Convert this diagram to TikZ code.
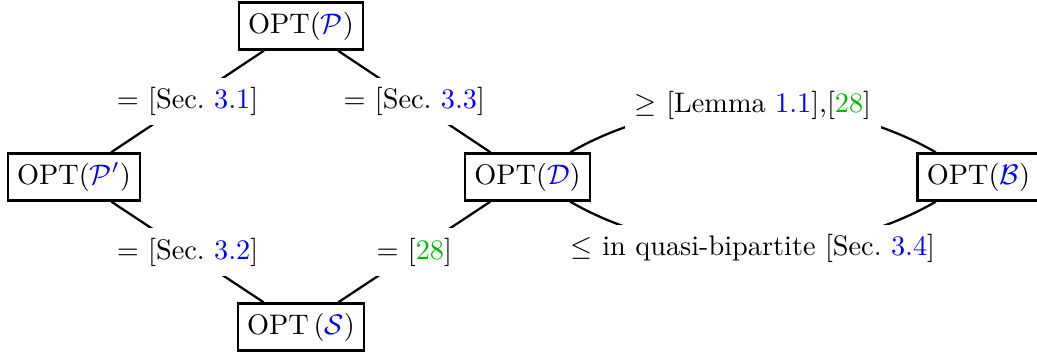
\documentclass[tikz,border=0pt]{standalone}
\usepackage{xcolor}
\definecolor{refblue}{rgb}{0,0,1}
\definecolor{citegreen}{rgb}{0,0.72,0}
\newcommand{\secref}[1]{\textcolor{refblue}{#1}}
\newcommand{\citeref}[1]{[\textcolor{citegreen}{#1}]}
\begin{document}
\begin{tikzpicture}[x=0.3534pt, y=-0.3534pt,
  opt/.style={draw, line width=0.8pt, inner sep=3.33pt},
  elabel/.style={fill=white, inner sep=3.33pt},
  conn/.style={line width=0.8pt}]
\useasboundingbox (0,0) rectangle (1037,356);
\node[opt] (P)  at (301,26)    {$\mathrm{OPT}(\textcolor{refblue}{\mathcal{P}})$};
\node[opt] (Pp) at (74,177)    {$\mathrm{OPT}(\textcolor{refblue}{\mathcal{P}'})$};
\node[opt] (D)  at (527.5,177) {$\mathrm{OPT}(\textcolor{refblue}{\mathcal{D}})$};
\node[opt] (B)  at (978.5,177) {$\mathrm{OPT}(\textcolor{refblue}{\mathcal{B}})$};
\node[opt] (S)  at (301,327)   {$\mathrm{OPT}\left(\textcolor{refblue}{\mathcal{S}}\right)$};
\draw[conn] (P) -- node[elabel] {$=$ [Sec.~\secref{3.1}]} (Pp);
\draw[conn] (P) -- node[elabel] {$=$ [Sec.~\secref{3.3}]} (D);
\draw[conn] (Pp) -- node[elabel] {$=$ [Sec.~\secref{3.2}]} (S);
\draw[conn] (D) -- node[elabel] {$=$ \citeref{28}} (S);
\draw[conn] (D) to[bend left=30, looseness=0.87] node[elabel] {$\geq$ [Lemma~\secref{1.1}],\citeref{28}} (B);
\draw[conn] (D) to[bend right=30, looseness=0.87] node[elabel] {$\leq$ in quasi-bipartite [Sec.~\secref{3.4}]} (B);
\end{tikzpicture}
\end{document}
